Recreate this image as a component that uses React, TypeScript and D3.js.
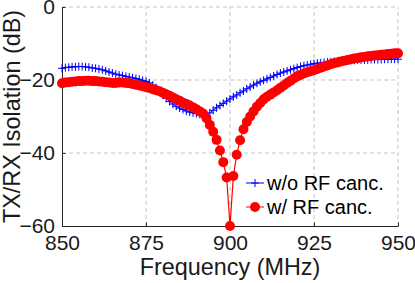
import { useEffect, useRef } from 'react';
import * as d3 from 'd3';

// frequency sweep, MHz
const freqs = d3.range(850, 951, 1);

// w/o RF cancellation (dB)
const withoutCanc = [
  -16.8, -16.6, -16.5, -16.4, -16.4, -16.3, -16.3, -16.4, -16.5, -16.7,
  -16.8, -17.0, -17.2, -17.5, -17.8, -18.1, -18.4, -18.6, -18.8, -19.0,
  -19.2, -19.4, -19.6, -19.8, -20.1, -20.4, -20.8, -21.4, -22.1, -23.0,
  -24.0, -25.0, -25.9, -26.6, -27.2, -27.7, -28.1, -28.5, -28.8, -29.0,
  -29.2, -29.4, -29.6, -29.8, -29.0, -28.3, -27.6, -27.0, -26.4, -25.8,
  -25.2, -24.6, -24.1, -23.5, -23.0, -22.4, -21.9, -21.4, -20.9, -20.5,
  -20.1, -19.7, -19.3, -18.9, -18.5, -18.1, -17.8, -17.5, -17.2, -16.9,
  -16.6, -16.3, -16.1, -15.9, -15.7, -15.5, -15.4, -15.3, -15.2, -15.1,
  -15.0, -14.9, -14.8, -14.8, -14.7, -14.7, -14.6, -14.6, -14.5, -14.5,
  -14.5, -14.5, -14.4, -14.4, -14.4, -14.4, -14.3, -14.3, -14.3, -14.3,
  -14.3,
];

// w/ RF cancellation (dB)
const withCanc = [
  -20.9, -20.7, -20.6, -20.5, -20.4, -20.3, -20.3, -20.2, -20.2, -20.3,
  -20.3, -20.4, -20.5, -20.6, -20.7, -20.8, -20.8, -20.7, -20.7, -20.8,
  -20.9, -21.1, -21.3, -21.5, -21.7, -22.0, -22.2, -22.5, -22.8, -23.1,
  -23.5, -23.9, -24.3, -24.8, -25.3, -25.7, -26.2, -26.6, -27.0, -27.5,
  -28.0, -28.6, -29.2, -30.5, -32.3, -34.2, -36.4, -39.3, -42.5, -46.7,
  -60.0, -46.3, -40.5, -36.5, -33.5, -31.5, -30.0, -28.6, -27.3, -26.3,
  -25.3, -24.6, -24.0, -23.4, -22.8, -22.1, -21.5, -20.8, -20.2, -19.6,
  -19.0, -18.6, -18.2, -17.9, -17.6, -17.3, -17.0, -16.6, -16.3, -16.0,
  -15.7, -15.4, -15.2, -14.9, -14.7, -14.5, -14.3, -14.1, -14.0, -13.8,
  -13.7, -13.5, -13.4, -13.3, -13.2, -13.1, -13.0, -12.9, -12.8, -12.7,
  -12.7,
];

const xTicks = [850, 875, 900, 925, 950];
const yTicks = [0, -20, -40, -60];
const legendLabels = ['w/o RF canc.', 'w/ RF canc.'];

export default function App() {
  const svgRef = useRef<SVGSVGElement>(null);

  useEffect(() => {
    const width = 415;
    const height = 283;
    const margin = { top: 7, right: 17, bottom: 57, left: 62 };
    const font = '"Liberation Sans", Arial, Helvetica, sans-serif';
    const axisColor = '#262626';

    const svg = d3.select(svgRef.current);
    svg.selectAll('*').remove();
    svg.attr('width', width).attr('height', height);

    const x = d3.scaleLinear().domain([850, 950]).range([margin.left, width - margin.right]);
    const y = d3.scaleLinear().domain([-60, 0]).range([height - margin.bottom, margin.top]);

    // grid
    const grid = svg.append('g')
      .attr('stroke', '#c4c4c4')
      .attr('stroke-width', 1)
      .attr('stroke-dasharray', '4,3');
    xTicks.slice(1).forEach((t) => {
      grid.append('line')
        .attr('x1', x(t)).attr('x2', x(t))
        .attr('y1', y(-60)).attr('y2', y(0));
    });
    yTicks.slice(0, -1).forEach((t) => {
      grid.append('line')
        .attr('x1', x(850)).attr('x2', x(950))
        .attr('y1', y(t)).attr('y2', y(t));
    });

    // axes with inward ticks
    const xAxis = d3.axisBottom(x).tickValues(xTicks).tickSizeInner(-3.5).tickSizeOuter(0).tickPadding(8);
    const yAxis = d3.axisLeft(y).tickValues(yTicks).tickSizeInner(-3.5).tickSizeOuter(0).tickPadding(7);

    const gx = svg.append('g').attr('transform', `translate(0,${y(-60)})`).call(xAxis);
    const gy = svg.append('g').attr('transform', `translate(${x(850)},0)`).call(yAxis);
    [gx, gy].forEach((g) => {
      g.select('.domain').attr('stroke', axisColor).attr('stroke-width', 1);
      g.selectAll('.tick line').attr('stroke', axisColor);
      g.selectAll('.tick text')
        .attr('fill', '#1a1a1a')
        .attr('font-family', font)
        .attr('font-size', 21);
    });
    gx.selectAll('.tick text').attr('dy', '0.75em');

    const pts = (vals: number[]) => freqs.map((f, i) => [f, vals[i]] as [number, number]);
    const line = d3.line<[number, number]>().x((d) => x(d[0])).y((d) => y(d[1]));

    // blue: plus markers
    const blue = '#0000ff';
    svg.append('path')
      .datum(pts(withoutCanc))
      .attr('d', line)
      .attr('fill', 'none')
      .attr('stroke', blue)
      .attr('stroke-width', 1);
    const plus = (g: any, cx: number, cy: number, s: number) => {
      g.append('path')
        .attr('d', `M${cx - s},${cy}H${cx + s}M${cx},${cy - s}V${cy + s}`)
        .attr('stroke', blue)
        .attr('stroke-width', 1)
        .attr('fill', 'none');
    };
    const gb = svg.append('g');
    pts(withoutCanc).forEach((d) => plus(gb, x(d[0]), y(d[1]), 4));

    // red: filled circles
    const red = '#ff0000';
    svg.append('path')
      .datum(pts(withCanc))
      .attr('d', line)
      .attr('fill', 'none')
      .attr('stroke', red)
      .attr('stroke-width', 1.2);
    svg.append('g')
      .selectAll('circle')
      .data(pts(withCanc))
      .enter()
      .append('circle')
      .attr('cx', (d) => x(d[0]))
      .attr('cy', (d) => y(d[1]))
      .attr('r', 5)
      .attr('fill', red);

    // axis labels
    svg.append('text')
      .attr('x', (x(850) + x(950)) / 2)
      .attr('y', 275)
      .attr('text-anchor', 'middle')
      .attr('font-family', font)
      .attr('font-size', 23.4)
      .attr('fill', '#1a1a1a')
      .text('Frequency (MHz)');
    svg.append('text')
      .attr('transform', `translate(20,${(y(0) + y(-60)) / 2}) rotate(-90)`)
      .attr('text-anchor', 'middle')
      .attr('font-family', font)
      .attr('font-size', 23.4)
      .attr('fill', '#1a1a1a')
      .text('TX/RX Isolation (dB)');

    // legend (no box)
    const lg = svg.append('g').attr('font-family', font).attr('font-size', 20).attr('fill', '#000');
    const rows = [183, 207];
    legendLabels.forEach((lab, i) => {
      const cy = rows[i];
      lg.append('line')
        .attr('x1', 246).attr('x2', 264)
        .attr('y1', cy).attr('y2', cy)
        .attr('stroke', i === 0 ? blue : red)
        .attr('stroke-width', 1);
      if (i === 0) plus(lg, 255, cy, 4);
      else lg.append('circle').attr('cx', 255).attr('cy', cy).attr('r', 5).attr('fill', red);
      lg.append('text')
        .attr('x', 267)
        .attr('y', cy + 7)
        .text(lab);
    });
  }, []);

  return (
    <div style={{ position: 'absolute', left: 0, top: 0 }}>
      <svg ref={svgRef}></svg>
    </div>
  );
}
